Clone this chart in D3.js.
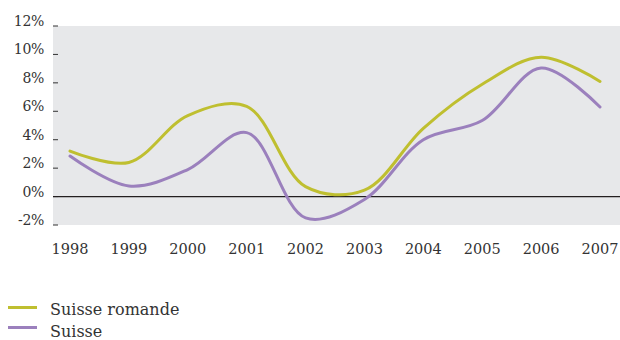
<!DOCTYPE html>
<html>
<head>
<meta charset="utf-8">
<script src="https://cdn.jsdelivr.net/npm/d3@7/dist/d3.min.js"></script>
<style>
  html, body { margin: 0; padding: 0; background: #fff; }
  svg { display: block; }
  text { font-family: "DejaVu Serif", "Liberation Serif", serif; fill: #333; }
</style>
</head>
<body>
<svg id="chart" width="620" height="340"></svg>
<script>
// Years on the x axis
const years = [1998, 1999, 2000, 2001, 2002, 2003, 2004, 2005, 2006, 2007];
// Growth rates (%) per year
const romande = [3.2, 2.4, 5.7, 6.35, 0.7, 0.45, 4.8, 7.9, 9.8, 8.1];
const suisse  = [2.85, 0.75, 1.9, 4.5, -1.5, -0.2, 4.0, 5.35, 9.05, 6.3];
// Y-axis tick values
const yTicks = [-2, 0, 2, 4, 6, 8, 10, 12];
const seriesNames = ["Suisse romande", "Suisse"];
const seriesColors = ["#bfbf30", "#9b80bd"];

const svg = d3.select("#chart");
const plot = { left: 53, right: 620, top: 26, bottom: 225 };

const x = d3.scalePoint().domain(years).range([70, 600]);
const y = d3.scaleLinear().domain([-2, 12]).range([plot.bottom, plot.top]);

// Plot background
svg.append("rect")
  .attr("x", plot.left).attr("y", plot.top)
  .attr("width", plot.right - plot.left).attr("height", plot.bottom - plot.top)
  .attr("fill", "#e7e8ea");

// Y axis: short dashes with labels sitting on them
const yAxis = svg.append("g").attr("transform", `translate(${plot.left},0)`);
yAxis.selectAll("line").data(yTicks).join("line")
  .attr("x1", 0).attr("x2", 5)
  .attr("y1", d => y(d)).attr("y2", d => y(d))
  .attr("stroke", "#333").attr("stroke-width", 1);
yAxis.selectAll("text").data(yTicks).join("text")
  .attr("x", -9).attr("y", d => y(d))
  .attr("text-anchor", "end")
  .attr("font-size", 14)
  .attr("letter-spacing", -0.3)
  .text(d => d + "%");

// Zero line
svg.append("line")
  .attr("x1", plot.left).attr("x2", plot.right)
  .attr("y1", y(0)).attr("y2", y(0))
  .attr("stroke", "#231f20").attr("stroke-width", 1.2);

// X axis labels
svg.append("g").selectAll("text").data(years).join("text")
  .attr("x", d => x(d)).attr("y", 254)
  .attr("text-anchor", "middle")
  .attr("font-size", 14.5)
  .text(d => d);

// Lines
const line = d3.line()
  .x((d, i) => x(years[i]))
  .y(d => y(d))
  .curve(d3.curveCatmullRom.alpha(0.5));

[romande, suisse].forEach((vals, i) => {
  svg.append("path")
    .datum(vals)
    .attr("d", line)
    .attr("fill", "none")
    .attr("stroke", seriesColors[i])
    .attr("stroke-width", 3)
    .attr("stroke-linecap", "round");
});

// Legend: swatches 20px apart, labels a bit further apart
const legend = svg.append("g");
seriesNames.forEach((name, i) => {
  const ly = 307.5 + i * 20;
  legend.append("line")
    .attr("x1", 8).attr("x2", 37)
    .attr("y1", ly).attr("y2", ly)
    .attr("stroke", seriesColors[i]).attr("stroke-width", 3);
  legend.append("text")
    .attr("x", 50).attr("y", 314.5 + i * 22.5)
    .attr("font-size", 16)
    .text(name);
});
</script>
</body>
</html>
